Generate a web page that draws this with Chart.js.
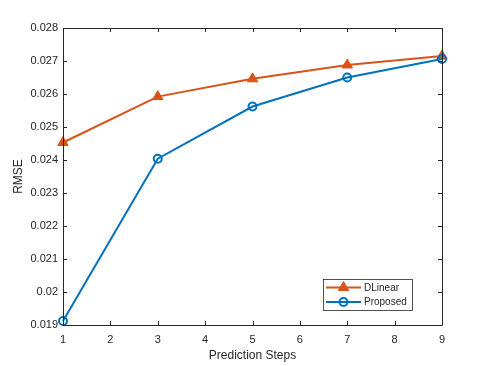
<!DOCTYPE html>
<html>
<head>
<meta charset="utf-8">
<script src="https://cdn.jsdelivr.net/npm/chart.js@4.4.1/dist/chart.umd.min.js"></script>
<style>
  html, body { margin: 0; padding: 0; background: #fff; }
  #wrap { width: 488px; height: 366px; }
</style>
</head>
<body>
<div id="wrap"><canvas id="chart" width="488" height="366"></canvas></div>
<script>
// data
const steps = [1, 3, 5, 7, 9];
const dlinear = [0.02453, 0.02592, 0.02646, 0.02688, 0.02715];
const proposed = [0.01912, 0.02404, 0.02562, 0.0265, 0.02706];
const xTicks = [1, 2, 3, 4, 5, 6, 7, 8, 9];
const yTicks = [0.019, 0.02, 0.021, 0.022, 0.023, 0.024, 0.025, 0.026, 0.027, 0.028];

const BLUE = '#0072BD';
const ORANGE = '#D95319';
const AXIS = '#262626';
const FONT = "'Liberation Sans', Arial, sans-serif";

// matlab style: full box, inward ticks, legend inside axes (bottom right)
const matlabAxes = {
  id: 'matlabAxes',
  afterDraw(chart) {
    const ctx = chart.ctx;
    const a = chart.chartArea;
    const xs = chart.scales.x, ys = chart.scales.y;
    ctx.save();
    ctx.strokeStyle = AXIS;
    ctx.lineWidth = 1;
    ctx.beginPath();
    ctx.rect(a.left + 0.5, a.top + 0.5, a.right - a.left, a.bottom - a.top);
    const len = 4;
    xTicks.forEach(t => {
      const px = Math.round(xs.getPixelForValue(t)) + 0.5;
      ctx.moveTo(px, a.bottom); ctx.lineTo(px, a.bottom - len);
      ctx.moveTo(px, a.top); ctx.lineTo(px, a.top + len);
    });
    yTicks.forEach(t => {
      const py = Math.round(ys.getPixelForValue(t)) + 0.5;
      ctx.moveTo(a.left, py); ctx.lineTo(a.left + len, py);
      ctx.moveTo(a.right, py); ctx.lineTo(a.right - len, py);
    });
    ctx.stroke();

    const lx = 323, ly = 279, lw = 89, lh = 31;
    ctx.fillStyle = '#fff';
    ctx.fillRect(lx, ly, lw, lh);
    ctx.strokeStyle = AXIS;
    ctx.lineWidth = 0.8;
    ctx.strokeRect(lx + 0.5, ly + 0.5, lw, lh);
    chart.data.datasets.forEach((ds, i) => {
      const cy = 287.5 + i * 14.5;
      ctx.strokeStyle = ds.borderColor;
      ctx.lineWidth = 2;
      ctx.beginPath();
      ctx.moveTo(326, cy); ctx.lineTo(361, cy);
      ctx.stroke();
      ctx.fillStyle = ds.pointBackgroundColor;
      ctx.strokeStyle = ds.pointBorderColor;
      ctx.lineWidth = ds.pointBorderWidth;
      Chart.helpers.drawPoint(ctx, {
        pointStyle: ds.pointStyle,
        radius: ds.pointRadius,
        borderWidth: ds.pointBorderWidth,
        rotation: 0
      }, 343.5, cy);
      ctx.fillStyle = AXIS;
      ctx.font = '10px ' + FONT;
      ctx.textBaseline = 'middle';
      ctx.textAlign = 'left';
      ctx.fillText(ds.label, 364, cy + 0.5);
    });
    ctx.restore();
  }
};

const toPts = ys => steps.map((s, i) => ({ x: s, y: ys[i] }));

new Chart(document.getElementById('chart'), {
  type: 'line',
  data: {
    datasets: [
      {
        label: 'DLinear',
        data: toPts(dlinear),
        borderColor: ORANGE,
        backgroundColor: ORANGE,
        pointBackgroundColor: ORANGE,
        pointBorderColor: ORANGE,
        pointStyle: 'triangle',
        pointRadius: 6,
        pointBorderWidth: 1,
        borderWidth: 2,
        tension: 0,
        clip: false,
        order: 1
      },
      {
        label: 'Proposed',
        data: toPts(proposed),
        borderColor: BLUE,
        backgroundColor: BLUE,
        pointBackgroundColor: 'rgba(0,0,0,0)',
        pointBorderColor: BLUE,
        pointStyle: 'circle',
        pointRadius: 4,
        pointBorderWidth: 2,
        borderWidth: 2,
        tension: 0,
        clip: false,
        order: 0
      }
    ]
  },
  options: {
    responsive: false,
    animation: false,
    events: [],
    layout: { padding: { top: 28, right: 46, left: 0, bottom: 0 } },
    plugins: { legend: { display: false }, tooltip: { enabled: false } },
    scales: {
      x: {
        type: 'linear',
        min: 1,
        max: 9,
        afterBuildTicks: s => { s.ticks = xTicks.map(v => ({ value: v })); },
        afterFit: s => { s.height = 41; },
        grid: { display: false, drawTicks: false },
        border: { display: false },
        ticks: {
          color: AXIS,
          font: { family: FONT, size: 11 },
          padding: 8,
          maxRotation: 0,
          callback: v => String(v)
        },
        title: {
          display: true,
          text: 'Prediction Steps',
          color: AXIS,
          font: { family: FONT, size: 12 },
          padding: { top: 0, bottom: 3 }
        }
      },
      y: {
        min: 0.019,
        max: 0.028,
        afterBuildTicks: s => { s.ticks = yTicks.map(v => ({ value: v })); },
        afterFit: s => { s.width = 63; },
        grid: { display: false, drawTicks: false },
        border: { display: false },
        ticks: {
          color: AXIS,
          font: { family: FONT, size: 11 },
          padding: 5,
          callback: v => String(parseFloat(v.toFixed(3)))
        },
        title: {
          display: true,
          text: 'RMSE',
          color: AXIS,
          font: { family: FONT, size: 12 },
          padding: { top: 11, bottom: 0 }
        }
      }
    }
  },
  plugins: [matlabAxes]
});
</script>
</body>
</html>
